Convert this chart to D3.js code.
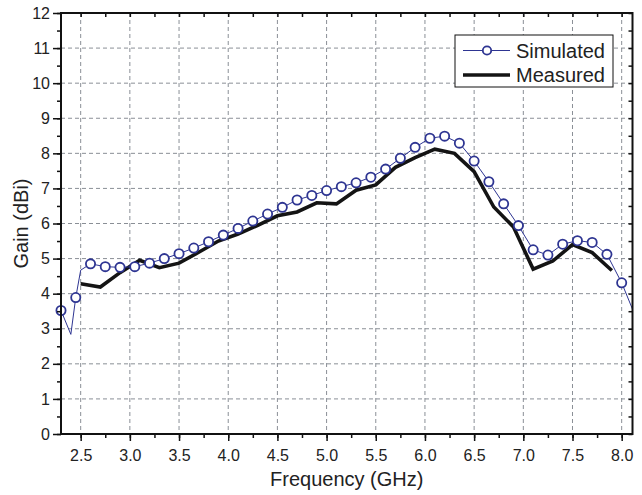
<!DOCTYPE html>
<html>
<head>
<meta charset="utf-8">
<script src="https://cdn.jsdelivr.net/npm/d3@7"></script>
<style>
  body { margin: 0; background: #fff; }
  text { font-family: "Liberation Sans", Arial, sans-serif; fill: #222; }
</style>
</head>
<body>
<div id="svg-container"></div>
<script>
// data
const simFreq = [2.3, 2.4, 2.45, 2.5, 2.6, 2.75, 2.9, 3.05, 3.2, 3.35, 3.5, 3.65, 3.8, 3.95,
    4.1, 4.25, 4.4, 4.55, 4.7, 4.85, 5.0, 5.15, 5.3, 5.45, 5.6, 5.75, 5.9, 6.05, 6.2, 6.35,
    6.5, 6.65, 6.8, 6.95, 7.1, 7.25, 7.4, 7.55, 7.7, 7.85, 8.0, 8.12]
const simGain = [3.52, 2.84, 3.89, 4.67, 4.85, 4.77, 4.75, 4.77, 4.87, 5.0, 5.14, 5.30, 5.48, 5.67,
    5.86, 6.07, 6.27, 6.46, 6.67, 6.80, 6.94, 7.05, 7.16, 7.32, 7.55, 7.86, 8.17, 8.43, 8.49, 8.29,
    7.78, 7.19, 6.56, 5.94, 5.25, 5.10, 5.41, 5.51, 5.46, 5.12, 4.31, 3.49]
// markers only on every 0.15 GHz step starting at 2.3
const simMarkerFreq = [2.3, 2.45, 2.6, 2.75, 2.9, 3.05, 3.2, 3.35, 3.5, 3.65, 3.8, 3.95,
    4.1, 4.25, 4.4, 4.55, 4.7, 4.85, 5.0, 5.15, 5.3, 5.45, 5.6, 5.75, 5.9, 6.05, 6.2, 6.35,
    6.5, 6.65, 6.8, 6.95, 7.1, 7.25, 7.4, 7.55, 7.7, 7.85, 8.0]

const measFreq = [2.5, 2.7, 2.9, 3.1, 3.3, 3.5, 3.7, 3.9, 4.1, 4.3, 4.5, 4.7, 4.9, 5.1, 5.3,
    5.5, 5.7, 5.9, 6.1, 6.3, 6.5, 6.7, 6.9, 7.1, 7.3, 7.5, 7.7, 7.9]
const measGain = [4.28, 4.19, 4.60, 4.95, 4.74, 4.87, 5.18, 5.50, 5.70, 5.95, 6.22, 6.33, 6.59, 6.56, 6.95,
    7.10, 7.60, 7.88, 8.12, 8.00, 7.48, 6.47, 5.90, 4.70, 4.93, 5.40, 5.17, 4.66]

const xMajor = d3.range(2.5, 8.01, 0.5)
const xMinor = d3.range(2.5, 8.11, 0.25)
const yMajor = d3.range(0, 12.01, 1)
const yMinor = d3.range(0, 12.01, 0.5)

const seriesNames = ['Simulated', 'Measured']

// dimensions
const W = 642, H = 495
const plot = { left: 61, top: 13, right: 632.5, bottom: 434 }

const svg = d3.select('#svg-container')
    .append('svg')
        .attr('width', W)
        .attr('height', H)

const x = d3.scaleLinear().domain([2.3, 8.11]).range([plot.left, plot.right])
const y = d3.scaleLinear().domain([0, 12]).range([plot.bottom, plot.top])

svg.append('defs').append('clipPath').attr('id', 'clip')
    .append('rect')
        .attr('x', plot.left).attr('y', plot.top)
        .attr('width', plot.right - plot.left).attr('height', plot.bottom - plot.top)

// grid
const grid = svg.append('g')
    .attr('stroke', '#8a8f96')
    .attr('stroke-width', 1)
    .attr('stroke-dasharray', '4,3')
grid.selectAll('.vg')
    .data(xMajor)
    .join('line')
        .attr('x1', d => x(d)).attr('x2', d => x(d))
        .attr('y1', plot.top).attr('y2', plot.bottom)
grid.selectAll('.hg')
    .data(yMajor.filter(d => d > 0 && d < 12))
    .join('line')
        .attr('class', 'hg')
        .attr('x1', plot.left).attr('x2', plot.right)
        .attr('y1', d => y(d)).attr('y2', d => y(d))

// series
const sim = simFreq.map((f, i) => ({ f, g: simGain[i] }))
const meas = measFreq.map((f, i) => ({ f, g: measGain[i] }))
const simMarks = sim.filter(d => simMarkerFreq.some(m => Math.abs(m - d.f) < 1e-6))

const line = d3.line().x(d => x(d.f)).y(d => y(d.g))

const plotG = svg.append('g').attr('clip-path', 'url(#clip)')

plotG.append('path')
    .datum(meas)
    .attr('d', line)
    .attr('fill', 'none')
    .attr('stroke', '#141414')
    .attr('stroke-width', 3.6)
    .attr('stroke-linejoin', 'miter')

plotG.append('path')
    .datum(sim)
    .attr('d', line)
    .attr('fill', 'none')
    .attr('stroke', '#2e3592')
    .attr('stroke-width', 1)

svg.append('g')
    .selectAll('circle')
    .data(simMarks)
    .join('circle')
        .attr('cx', d => x(d.f))
        .attr('cy', d => y(d.g))
        .attr('r', 4.6)
        .attr('fill', '#fff')
        .attr('stroke', '#2e3592')
        .attr('stroke-width', 1.8)

// axes
const fmt = d3.format('.1f')
const styleAxis = g => {
    g.select('.domain').remove()
    g.selectAll('.tick line').attr('stroke', '#111').attr('stroke-width', 1.5)
    g.selectAll('.tick text').style('font-size', '16px').attr('fill', '#222')
}

svg.append('g')
    .attr('transform', `translate(0,${plot.bottom})`)
    .call(d3.axisBottom(x).tickValues(xMinor).tickSize(4).tickFormat(''))
    .call(styleAxis)
svg.append('g')
    .attr('transform', `translate(0,${plot.bottom})`)
    .call(d3.axisBottom(x).tickValues(xMajor).tickSize(7).tickPadding(9).tickFormat(fmt))
    .call(styleAxis)

svg.append('g')
    .attr('transform', `translate(${plot.left},0)`)
    .call(d3.axisLeft(y).tickValues(yMinor).tickSize(4).tickFormat(''))
    .call(styleAxis)
svg.append('g')
    .attr('transform', `translate(${plot.left},0)`)
    .call(d3.axisLeft(y).tickValues(yMajor).tickSize(8).tickPadding(3).tickFormat(d3.format('d')))
    .call(styleAxis)

// top and right ticks point inward
svg.append('g')
    .attr('transform', `translate(0,${plot.top})`)
    .call(d3.axisBottom(x).tickValues(xMinor).tickSize(4).tickFormat(''))
    .call(styleAxis)
svg.append('g')
    .attr('transform', `translate(${plot.right},0)`)
    .call(d3.axisLeft(y).tickValues(yMinor).tickSize(4).tickFormat(''))
    .call(styleAxis)

// frame
svg.append('rect')
    .attr('x', plot.left).attr('y', plot.top)
    .attr('width', plot.right - plot.left).attr('height', plot.bottom - plot.top)
    .attr('fill', 'none')
    .attr('stroke', '#111')
    .attr('stroke-width', 2)

// titles
svg.append('text')
    .attr('x', (plot.left + plot.right) / 2)
    .attr('y', 486)
    .attr('text-anchor', 'middle')
    .style('font-size', '20px')
    .text('Frequency (GHz)')

svg.append('text')
    .attr('transform', `translate(28,${(plot.top + plot.bottom) / 2}) rotate(-90)`)
    .attr('text-anchor', 'middle')
    .style('font-size', '20px')
    .text('Gain (dBi)')

// legend
const legend = svg.append('g').attr('transform', 'translate(455,35)')
legend.append('rect')
    .attr('width', 158).attr('height', 52)
    .attr('fill', '#fff')
    .attr('stroke', '#111')
    .attr('stroke-width', 1)

const rows = legend.selectAll('g.row')
    .data(seriesNames)
    .join('g')
        .attr('class', 'row')
        .attr('transform', (d, i) => `translate(0,${15.5 + i * 24.5})`)

rows.append('line')
    .attr('x1', 8).attr('x2', 55)
    .attr('stroke', (d, i) => i === 0 ? '#2e3592' : '#141414')
    .attr('stroke-width', (d, i) => i === 0 ? 1 : 3.6)

rows.filter((d, i) => i === 0).append('circle')
    .attr('cx', 32).attr('r', 4.2)
    .attr('fill', '#fff')
    .attr('stroke', '#2e3592')
    .attr('stroke-width', 1.8)

rows.append('text')
    .attr('x', 61)
    .attr('dy', '0.35em')
    .style('font-size', '20px')
    .text(d => d)
</script>
</body>
</html>
